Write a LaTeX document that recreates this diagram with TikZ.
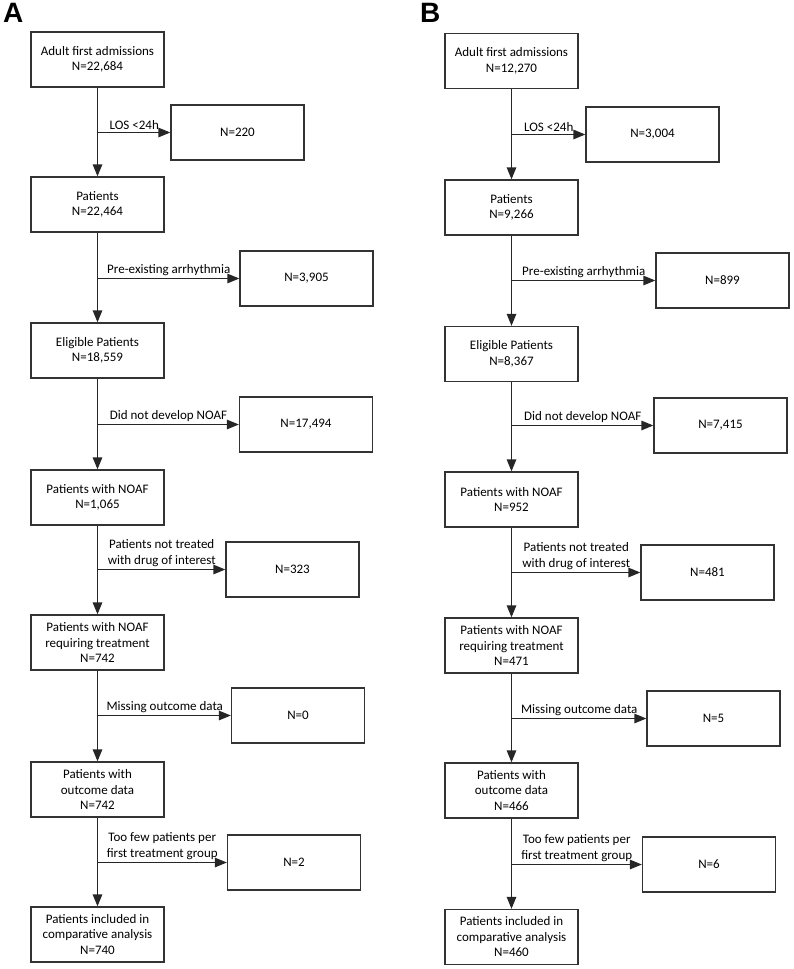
\documentclass[tikz,border=0pt]{standalone}
\usepackage{fontspec}
\setmainfont{Carlito}
\newfontfamily\panelfont{Liberation Sans}
\usetikzlibrary{arrows.meta}
\begin{document}
\begin{tikzpicture}[x=1pt,y=-1pt,
  box/.style={draw=black!80, line width=1.3pt, minimum width=133pt, minimum height=55pt,
    align=center, inner sep=2pt, font=\fontsize{13}{15.5}\selectfont},
  lab/.style={align=center, anchor=south, inner sep=0pt, font=\fontsize{13}{15.5}\selectfont},
  arr/.style={draw=black!85, line width=1.3pt, -{Triangle[length=12pt,width=9.5pt]}},
  panel/.style={font=\panelfont\bfseries\fontsize{28}{28}\selectfont, inner sep=0pt, anchor=north west}
]
\useasboundingbox (0,0) rectangle (793,969);

% ---------------- Panel A ----------------
\node[panel] (LA) at (3,3) {A};
\node[box] (a1) at (97.5,59.5) {Adult first admissions\\N=22,684};
\node[box] (a2) at (97.5,204.5) {Patients\\N=22,464};
\node[box] (a3) at (97.5,350.5) {Eligible Patients\\N=18,559};
\node[box] (a4) at (97.5,497.5) {Patients with NOAF\\N=1,065};
\node[box] (a5) at (97.5,642.5) {Patients with NOAF\\requiring treatment\\N=742};
\node[box] (a6) at (97.5,789.5) {Patients with\\outcome data\\N=742};
\node[box] (a7) at (97.5,934.5) {Patients included in\\comparative analysis\\N=740};

\node[box] (as1) at (237.5,132.5) {N=220};
\node[box] (as2) at (306.5,278.5) {N=3,905};
\node[box] (as3) at (306,424.5) {N=17,494};
\node[box] (as4) at (292.5,569.5) {N=323};
\node[box] (as5) at (298,715.5) {N=0};
\node[box] (as6) at (294,862.5) {N=2};

\coordinate (aj1) at (97.5,132.5);
\coordinate (aj2) at (97.5,278.5);
\coordinate (aj3) at (97.5,424.5);
\coordinate (aj4) at (97.5,569.5);
\coordinate (aj5) at (97.5,715.5);
\coordinate (aj6) at (97.5,862.5);

\draw[arr] (a1) -- (a2);
\draw[arr] (a2) -- (a3);
\draw[arr] (a3) -- (a4);
\draw[arr] (a4) -- (a5);
\draw[arr] (a5) -- (a6);
\draw[arr] (a6) -- (a7);
\draw[arr] (aj1) -- (as1.west);
\draw[arr] (aj2) -- (as2.west);
\draw[arr] (aj3) -- (as3.west);
\draw[arr] (aj4) -- (as4.west);
\draw[arr] (aj5) -- (as5.west);
\draw[arr] (aj6) -- (as6.west);

\node[lab] (al1) at (134.25,129.5) {LOS <24h};
\node[lab] (al2) at (168.75,275.5) {Pre-existing arrhythmia};
\node[lab] (al3) at (168.5,421.5) {Did not develop NOAF};
\node[lab] (al4) at (161.75,566.5) {Patients not treated\\with drug of interest};
\node[lab] (al5) at (164.75,712.5) {Missing outcome data};
\node[lab] (al6) at (162.25,859.5) {Too few patients per\\first treatment group};

% ---------------- Panel B ----------------
\node[panel] (LB) at (420,3) {B};
\node[box] (b1) at (511.5,61) {Adult first admissions\\N=12,270};
\node[box] (b2) at (511.5,207.5) {Patients\\N=9,266};
\node[box] (b3) at (511.5,354) {Eligible Patients\\N=8,367};
\node[box] (b4) at (511.5,499.5) {Patients with NOAF\\N=952};
\node[box] (b5) at (511.5,645.5) {Patients with NOAF\\requiring treatment\\N=471};
\node[box] (b6) at (511.5,790.5) {Patients with\\outcome data\\N=466};
\node[box] (b7) at (511.5,937) {Patients included in\\comparative analysis\\N=460};

\node[box] (bs1) at (652.5,134.5) {N=3,004};
\node[box] (bs2) at (722.5,280.5) {N=899};
\node[box] (bs3) at (720.5,425.5) {N=7,415};
\node[box] (bs4) at (707.5,572.5) {N=481};
\node[box] (bs5) at (713.5,718.5) {N=5};
\node[box] (bs6) at (709,864.5) {N=6};

\coordinate (bj1) at (511.5,134.5);
\coordinate (bj2) at (511.5,280.5);
\coordinate (bj3) at (511.5,425.5);
\coordinate (bj4) at (511.5,572.5);
\coordinate (bj5) at (511.5,718.5);
\coordinate (bj6) at (511.5,864.5);

\draw[arr] (b1) -- (b2);
\draw[arr] (b2) -- (b3);
\draw[arr] (b3) -- (b4);
\draw[arr] (b4) -- (b5);
\draw[arr] (b5) -- (b6);
\draw[arr] (b6) -- (b7);
\draw[arr] (bj1) -- (bs1.west);
\draw[arr] (bj2) -- (bs2.west);
\draw[arr] (bj3) -- (bs3.west);
\draw[arr] (bj4) -- (bs4.west);
\draw[arr] (bj5) -- (bs5.west);
\draw[arr] (bj6) -- (bs6.west);

\node[lab] (bl1) at (548.75,131.5) {LOS <24h};
\node[lab] (bl2) at (583.75,277.5) {Pre-existing arrhythmia};
\node[lab] (bl3) at (582.75,422.5) {Did not develop NOAF};
\node[lab] (bl4) at (576.25,569.5) {Patients not treated\\with drug of interest};
\node[lab] (bl5) at (579.25,715.5) {Missing outcome data};
\node[lab] (bl6) at (576.75,861.5) {Too few patients per\\first treatment group};
\end{tikzpicture}
\end{document}
